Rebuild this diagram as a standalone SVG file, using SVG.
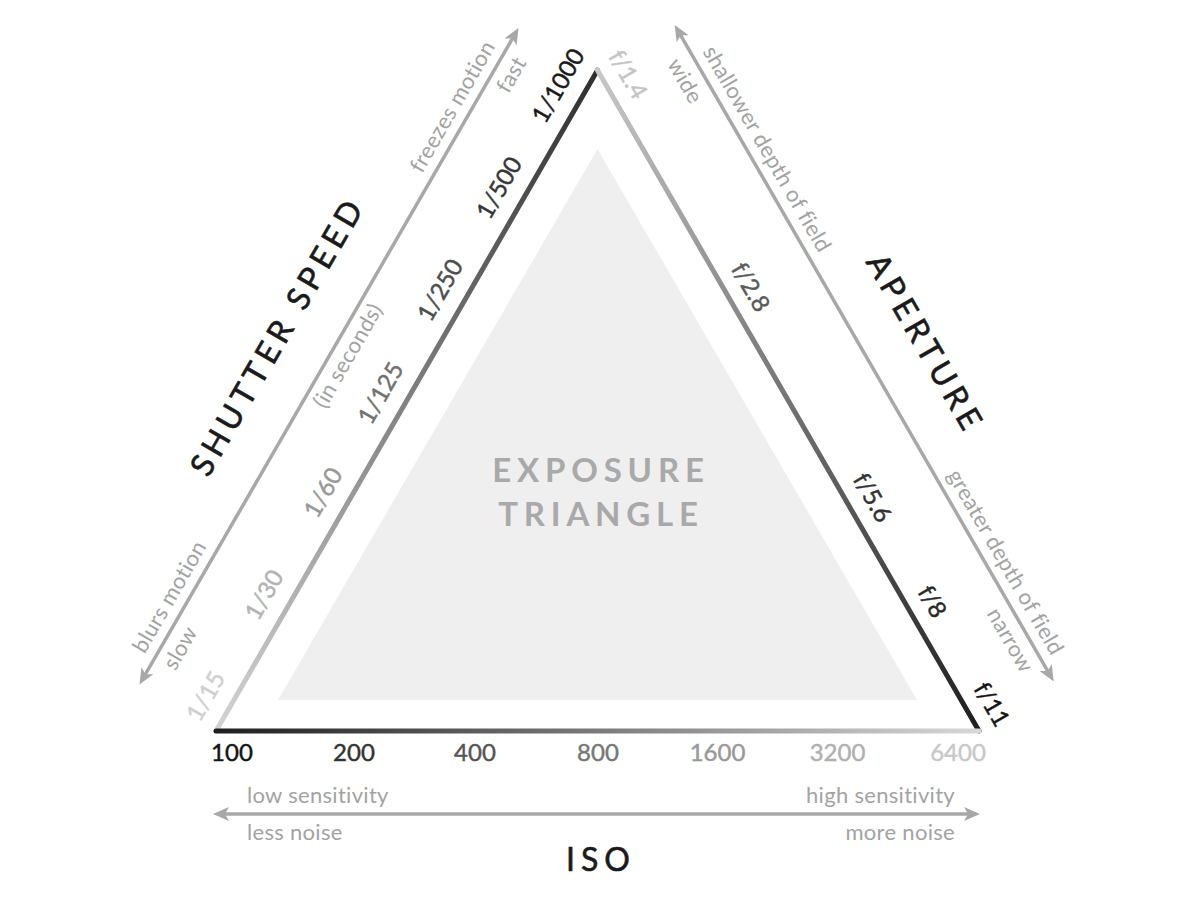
<svg xmlns="http://www.w3.org/2000/svg" width="1200" height="905" viewBox="0 0 1200 905">
  <defs>
    <style>
      text { font-family: "Lato", "Noto Sans", "DejaVu Sans", sans-serif; }
      .num { font-size: 24px; text-anchor: middle; fill: currentColor; stroke: currentColor; stroke-width: 0.45px; }
      .note { font-size: 22px; fill: #a3a3a3; letter-spacing: 0.3px; text-anchor: middle; }
      .title { font-size: 32px; fill: #1a1a1a; stroke: #1a1a1a; stroke-width: 0.6px; letter-spacing: 5.3px; text-anchor: middle; }
      .core { font-size: 33px; fill: #a9a9a9; font-weight: 700; letter-spacing: 5.8px; text-anchor: middle; }
      .edge { fill: none; stroke-width: 5; stroke-linecap: round; }
      .axis { fill: none; stroke: #a8a8a8; stroke-width: 3.5; marker-start: url(#head); marker-end: url(#head); }
    </style>
    <marker id="head" markerUnits="userSpaceOnUse" markerWidth="16" markerHeight="14" viewBox="0 0 16 14" refX="11" refY="7" orient="auto-start-reverse">
      <path d="M0,0 L16,7 L0,14 L4,7 z" fill="#a8a8a8"/>
    </marker>
    <linearGradient id="gShutter" gradientUnits="userSpaceOnUse" x1="0" y1="0" x2="763" y2="0">
      <stop offset="0" stop-color="#d4d4d4"/>
      <stop offset="1" stop-color="#2e2e2e"/>
    </linearGradient>
    <linearGradient id="gAperture" gradientUnits="userSpaceOnUse" x1="0" y1="0" x2="763" y2="0">
      <stop offset="0" stop-color="#c8c8c8"/>
      <stop offset="1" stop-color="#1e1e1e"/>
    </linearGradient>
    <linearGradient id="gIso" gradientUnits="userSpaceOnUse" x1="216" y1="0" x2="979" y2="0">
      <stop offset="0" stop-color="#1e1e1e"/>
      <stop offset="1" stop-color="#d8d8d8"/>
    </linearGradient>
  </defs>

  <rect width="1200" height="905" fill="#ffffff"/>

  <!-- centre: filled triangle with its caption -->
  <g id="exposure-triangle">
    <polygon points="597.5,149 278,700 917,700" fill="#efefef"/>
    <text class="core" x="601" y="482">EXPOSURE</text>
    <text class="core" x="601" y="526">TRIANGLE</text>
  </g>

  <!-- triangle sides (each drawn in its own rotated frame) -->
  <g id="triangle-edges">
    <line class="edge" transform="translate(216,731) rotate(-60)" x1="0" y1="0" x2="763" y2="0" stroke="url(#gShutter)"/>
    <line class="edge" transform="translate(597.5,70.2) rotate(60)" x1="0" y1="0" x2="763" y2="0" stroke="url(#gAperture)"/>
    <line class="edge" x1="216" y1="731" x2="979" y2="731" stroke="url(#gIso)"/>
  </g>

  <!-- double-headed scale arrows -->
  <g id="connectors">
    <line class="axis" transform="translate(216,731) rotate(-60)" x1="7" y1="-89.5" x2="755" y2="-89.5"/>
    <line class="axis" transform="translate(597.5,70.2) rotate(60)" x1="4.4" y1="-89.5" x2="752.4" y2="-89.5"/>
    <line class="axis" x1="218" y1="814" x2="975" y2="814"/>
  </g>

  <!-- shutter speed side -->
  <g id="shutter-speed" transform="translate(216,731) rotate(-60)">
    <text class="num" x="25" y="-18" color="#d0d0d0">1/15</text>
    <text class="num" x="142" y="-18" color="#b3b3b3">1/30</text>
    <text class="num" x="260" y="-18" color="#999999">1/60</text>
    <text class="num" x="375" y="-18" color="#717171">1/125</text>
    <text class="num" x="494" y="-18" color="#4d4d4d">1/250</text>
    <text class="num" x="612" y="-18" color="#363636">1/500</text>
    <text class="num" x="730" y="-18" color="#1a1a1a">1/1000</text>
    <text class="note" x="54" y="-65">slow</text>
    <text class="note" x="93" y="-100">blurs motion</text>
    <text class="note" x="391" y="-66">(in seconds)</text>
    <text class="note" x="659" y="-100">freezes motion</text>
    <text class="note" x="716" y="-65">fast</text>
    <text class="title" x="373" y="-133">SHUTTER SPEED</text>
  </g>

  <!-- aperture side -->
  <g id="aperture" transform="translate(597.5,70.2) rotate(60)">
    <text class="num" x="19" y="-16" color="#c4c4c4">f/1.4</text>
    <text class="num" x="264.4" y="-16" color="#5a5a5a">f/2.8</text>
    <text class="num" x="507.7" y="-16" color="#333333">f/5.6</text>
    <text class="num" x="627.7" y="-16" color="#2a2a2a">f/8</text>
    <text class="num" x="746.4" y="-16" color="#141414">f/11</text>
    <text class="note" x="53" y="-63">wide</text>
    <text class="note" x="153" y="-100">shallower depth of field</text>
    <text class="note" x="630" y="-100">greater depth of field</text>
    <text class="note" x="700" y="-65">narrow</text>
    <text class="title" x="401" y="-136">APERTURE</text>
  </g>

  <!-- ISO side -->
  <g id="iso">
    <text class="num" x="232" y="761" color="#141414">100</text>
    <text class="num" x="354" y="761" color="#333333">200</text>
    <text class="num" x="475" y="761" color="#555555">400</text>
    <text class="num" x="598" y="761" color="#777777">800</text>
    <text class="num" x="717.5" y="761" color="#999999">1600</text>
    <text class="num" x="837.5" y="761" color="#b0b0b0">3200</text>
    <text class="num" x="958" y="761" color="#c8c8c8">6400</text>
    <text class="note" x="247" y="803" style="text-anchor:start">low sensitivity</text>
    <text class="note" x="247" y="840" style="text-anchor:start">less noise</text>
    <text class="note" x="955" y="803" style="text-anchor:end">high sensitivity</text>
    <text class="note" x="955" y="840" style="text-anchor:end">more noise</text>
    <text class="title" x="601" y="871" style="letter-spacing:6px">ISO</text>
  </g>
</svg>
